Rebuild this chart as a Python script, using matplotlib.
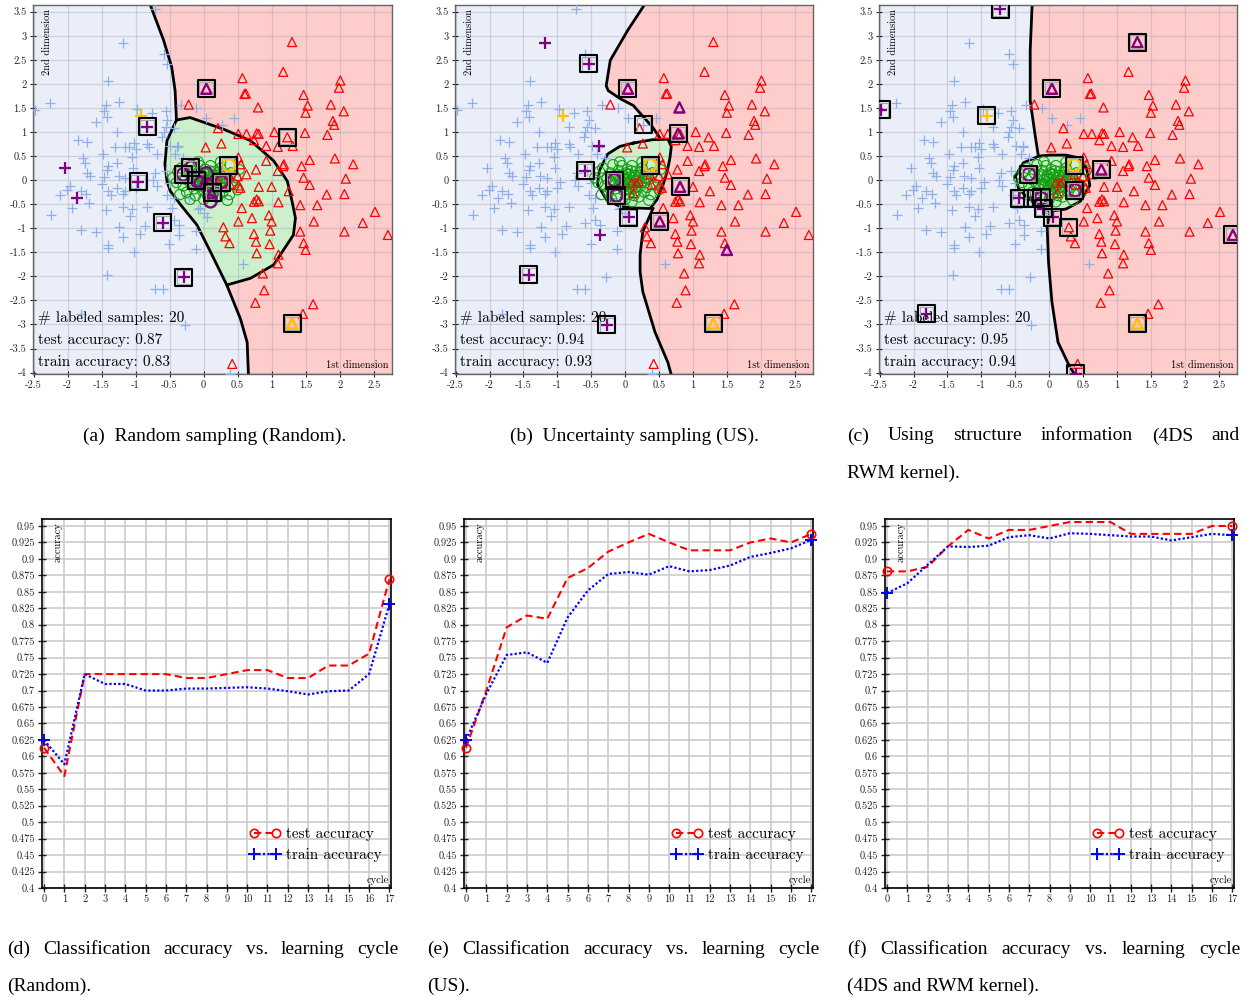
import numpy as np
import matplotlib
matplotlib.use('Agg')
import matplotlib.pyplot as plt

plt.rcParams['font.family'] = 'serif'
plt.rcParams['font.serif'] = ['cmr10']
plt.rcParams['axes.unicode_minus'] = False
plt.rcParams['mathtext.fontset'] = 'cm'

# ---------------- scatter data (same samples in all three panels) ----------------
cross_pts = [(-2.48, 1.46), (-2.26, 1.60), (-1.18, 2.86), (-0.59, 2.62), (-0.54, 2.42), (-1.41, 2.05),
             (-1.24, 1.62), (-1.43, 1.56), (-1.47, 1.44), (-1.42, 1.32), (-1.59, 1.20), (-1.27, 0.99),
             (-0.98, 1.48), (-0.76, 1.40), (-0.56, 1.44), (-0.34, 1.57), (-0.54, 1.25), (-0.56, 1.11),
             (-0.59, 0.99), (-0.61, 0.89), (-0.44, 1.09), (-1.85, 0.83), (-1.71, 0.80), (-1.77, 0.47),
             (-1.75, 0.36), (-1.72, 0.15), (-1.67, 0.08), (-1.48, 0.54), (-1.30, 0.68), (-1.15, 0.69),
             (-1.03, 0.78), (-1.00, 0.64), (-1.05, 0.48), (-1.10, 0.68), (-1.27, 0.36), (-1.40, 0.29),
             (-1.42, 0.22), (-1.47, 0.06), (-0.83, 0.76), (-0.81, 0.68), (-0.69, 0.54), (-1.04, 0.26),
             (-0.71, 0.15), (-0.56, 0.19), (-0.49, 0.71), (-0.39, 0.68), (-2.11, -0.30), (-2.01, -0.20),
             (-1.96, -0.13), (-1.81, -0.23), (-1.73, -0.29), (-1.50, -0.09), (-1.40, -0.22), (-1.25, 0.08),
             (-1.15, 0.05), (-1.15, -0.23), (-1.27, -0.16), (-1.00, -0.16), (-0.74, 0.01), (-0.69, -0.13),
             (-0.51, -0.06), (-2.25, -0.73), (-1.94, -0.58), (-1.81, -1.03), (-1.59, -1.08), (-1.69, -0.47),
             (-1.43, -0.63), (-1.37, -0.30), (-1.18, -0.29), (-1.19, -0.56), (-1.05, -0.61), (-1.09, -0.75),
             (-0.83, -0.56), (-1.24, -0.98), (-1.18, -1.19), (-0.93, -1.12), (-0.87, -0.96), (-1.41, -1.35),
             (-1.41, -1.42), (-1.03, -1.49), (-1.42, -1.97), (-0.71, -2.27), (-0.60, -2.27), (-1.81, -2.78),
             (-0.27, -3.01), (-0.51, -1.33), (-0.44, -0.82), (-0.37, -0.93), (-0.37, -1.14), (-0.47, -0.58),
             (-0.54, -0.30), (-0.06, -0.58), (0.00, -0.68), (0.05, -0.77), (-0.12, -1.05), (-0.12, -1.43),
             (0.58, -1.75), (0.39, -4.03), (-0.11, 1.50), (0.04, 1.29), (0.27, 1.15), (0.45, 1.29),
             (-0.72, 3.55), (-0.44, -0.38), (-0.21, -0.38), (-0.09, -0.59), (-0.60, -0.89), (-0.29, -2.02),
             (-0.83, 1.11), (-0.96, -0.03), (-2.04, 0.26), (-1.87, -0.37), (-0.38, 0.71), (-0.30, 0.45),
             (0.15, 0.05), (-0.05, 0.20), (0.30, -0.30), (-0.42, 0.54)]

tri_pts = [(-0.22, 1.57), (1.30, 2.87), (1.17, 2.25), (0.57, 2.12), (2.01, 2.07), (1.99, 1.92), (0.60, 1.79),
           (0.62, 1.80), (1.47, 1.77), (1.53, 1.55), (1.50, 1.40), (1.87, 1.57), (2.06, 1.43), (0.80, 1.51),
           (1.90, 1.23), (1.92, 1.15), (0.51, 0.96), (0.63, 0.96), (0.78, 0.97), (0.81, 0.96), (1.04, 1.00),
           (1.49, 0.98), (1.82, 0.94), (0.74, 0.83), (0.92, 0.71), (1.09, 0.69), (1.31, 0.71), (0.26, 0.76),
           (0.03, 0.68), (0.21, 1.08), (0.51, 0.47), (0.55, 0.33), (0.92, 0.40), (0.77, 0.22), (1.18, 0.33),
           (1.17, 0.29), (1.09, 0.19), (1.44, 0.29), (1.56, 0.42), (1.93, 0.45), (2.20, 0.33), (1.47, 0.05),
           (2.09, 0.03), (1.56, -0.10), (0.51, -0.11), (0.81, -0.14), (1.00, -0.14), (1.25, -0.23),
           (1.81, -0.30), (2.07, -0.29), (0.37, 0.12), (0.04, 1.90), (1.23, 0.89), (0.56, -0.58),
           (0.74, -0.45), (0.78, -0.40), (0.81, -0.44), (1.10, -0.46), (0.29, -0.98), (0.51, -0.86),
           (0.71, -0.79), (0.96, -0.73), (1.00, -0.86), (0.32, -1.17), (0.38, -1.31), (0.74, -1.12),
           (0.77, -1.28), (0.98, -1.05), (0.97, -1.33), (0.78, -1.52), (1.10, -1.55), (1.09, -1.73),
           (0.87, -1.94), (0.89, -2.29), (0.76, -2.55), (1.61, -2.58), (1.46, -2.78), (0.42, -3.82),
           (1.42, -0.52), (1.67, -0.52), (1.62, -0.86), (1.42, -1.07), (1.47, -1.31), (1.50, -1.45),
           (2.07, -1.07), (2.34, -0.89), (2.52, -0.66), (2.71, -1.14), (0.50, 0.08), (0.63, 0.12),
           (0.39, -0.09), (0.54, -0.16), (0.10, -0.06), (0.17, -0.06), (0.12, -0.27), (0.20, -0.02)]

circ_pts = [(-0.45, 0.05), (-0.40, -0.05), (-0.38, 0.18), (-0.33, 0.25), (-0.30, -0.12), (-0.27, 0.02),
            (-0.25, -0.25), (-0.22, 0.15), (-0.20, -0.05), (-0.18, 0.32), (-0.15, 0.08), (-0.14, -0.18),
            (-0.12, -0.32), (-0.10, 0.20), (-0.08, 0.00), (-0.06, -0.12), (-0.05, 0.30), (-0.03, 0.10),
            (-0.02, -0.22), (0.00, 0.02), (0.02, -0.08), (0.03, 0.22), (0.05, -0.30), (0.06, 0.12),
            (0.08, -0.02), (0.09, -0.15), (0.10, 0.30), (0.12, 0.05), (0.13, -0.10), (0.15, 0.18),
            (0.16, -0.22), (0.18, 0.00), (0.20, -0.35), (0.21, 0.10), (0.23, -0.12), (0.25, 0.25),
            (0.27, -0.02), (0.28, -0.25), (0.30, 0.12), (0.32, -0.15), (0.35, 0.02), (0.38, -0.30),
            (0.40, 0.15), (0.43, -0.08), (0.47, 0.05), (0.50, -0.20), (0.52, 0.22), (-0.35, -0.30),
            (0.00, -0.40), (0.10, -0.45), (-0.20, -0.40), (0.25, 0.38), (-0.08, 0.38), (0.35, -0.42),
            (-0.04, 0.05), (0.04, -0.04), (0.07, 0.06), (0.11, -0.05), (0.14, 0.09), (-0.01, -0.13),
            (0.19, 0.05), (0.06, -0.19), (-0.11, 0.11), (0.16, -0.14), (0.22, 0.16), (-0.09, -0.07),
            (0.01, 0.15), (0.24, -0.06), (0.09, 0.19), (-0.16, -0.09), (0.30, 0.04), (0.13, -0.32)]

yel_cross = (-0.92, 1.34)
yel_circ = (0.37, 0.31)
yel_tri = (1.30, -2.98)

# ---------------- per panel: labeled samples ----------------
a_pcross = [(-2.04, 0.26), (-1.87, -0.37), (-0.83, 1.11), (-0.96, -0.03), (-0.60, -0.89), (-0.29, -2.02)]
a_pcirc = [(-0.30, 0.12), (-0.18, 0.26), (-0.10, -0.01), (0.04, 0.14), (-0.04, -0.06), (0.26, -0.04),
           (0.10, -0.44), (0.05, -0.10)]
a_ptri = [(0.04, 1.90), (0.12, -0.27)]
a_box = [(-0.83, 1.11), (-0.96, -0.03), (-0.60, -0.89), (-0.29, -2.02), (0.04, 1.90), (1.23, 0.89),
         (0.37, 0.31), (1.30, -2.98), (-0.30, 0.12), (-0.20, 0.26), (-0.10, -0.01), (0.26, -0.04),
         (0.13, -0.26)]

b_pcross = [(-1.18, 2.86), (-0.38, 0.71), (-0.59, 0.19), (0.05, -0.77), (-0.37, -1.14), (-1.42, -1.97),
            (-0.54, 2.42), (-0.27, -3.01)]
b_pcirc = [(-0.16, 0.00), (-0.13, -0.32)]
b_ptri = [(0.04, 1.90), (0.80, 1.51), (0.78, 0.97), (0.81, -0.14), (0.51, -0.86), (1.50, -1.45)]
b_box = [(-0.54, 2.42), (0.04, 1.90), (0.27, 1.15), (-0.59, 0.19), (-0.16, 0.00), (-0.13, -0.32),
         (0.37, 0.31), (0.05, -0.77), (0.51, -0.86), (0.78, 0.97), (0.81, -0.14), (-1.42, -1.97),
         (-0.27, -3.01), (1.30, -2.98)]

c_pcross = [(-2.48, 1.46), (-0.72, 3.55), (-0.44, -0.38), (-0.21, -0.38), (-0.09, -0.59), (0.05, -0.77),
            (-1.81, -2.78), (0.39, -4.03)]
c_pcirc = [(-0.30, 0.12), (-0.12, -0.37), (0.38, -0.21)]
c_ptri = [(0.04, 1.90), (1.30, 2.87), (0.77, 0.22), (2.71, -1.14)]
c_box = [(-2.48, 1.46), (-0.72, 3.55), (-0.92, 1.34), (0.04, 1.90), (1.30, 2.87), (-0.30, 0.12),
         (0.37, 0.31), (0.77, 0.22), (-0.44, -0.38), (-0.24, -0.38), (-0.12, -0.37), (-0.09, -0.59),
         (0.05, -0.77), (0.38, -0.21), (0.29, -0.98), (2.71, -1.14), (-1.81, -2.78), (1.30, -2.98),
         (0.39, -4.03)]

# ---------------- decision boundaries ----------------
a_top = [(-0.80, 3.70), (-0.59, 2.91), (-0.47, 2.35), (-0.42, 1.86), (-0.40, 1.25)]
a_bot = [(0.34, -2.18), (0.54, -2.88), (0.64, -3.37), (0.66, -4.10)]
a_grn = [(-0.40, 1.25), (-0.20, 1.30), (0.29, 1.06), (0.69, 0.82), (1.03, 0.40), (1.23, -0.02),
         (1.30, -0.44), (1.35, -0.79), (1.32, -1.14), (1.03, -1.76), (0.69, -2.04), (0.34, -2.18),
         (0.10, -1.49), (-0.05, -1.07), (-0.10, -0.93), (-0.34, -0.51), (-0.49, -0.23), (-0.54, -0.02),
         (-0.57, 0.33), (-0.54, 0.82)]

b_top = [(0.31, 3.70), (0.04, 3.12), (-0.22, 2.49), (-0.28, 1.96), (-0.25, 1.86), (-0.07, 1.69),
         (0.12, 1.55), (0.41, 1.09), (0.51, 0.88)]
b_bot = [(0.41, -0.59), (0.26, -1.07), (0.22, -1.55), (0.22, -1.91), (0.26, -2.32), (0.44, -3.16),
         (0.63, -3.79), (0.69, -4.10)]
b_grn = [(0.12, 0.77), (0.40, 0.84), (0.63, 0.85), (0.68, 0.70), (0.66, 0.46), (0.62, 0.18),
         (0.56, -0.09), (0.47, -0.40), (0.37, -0.59), (0.15, -0.58), (-0.07, -0.55), (-0.27, -0.42),
         (-0.41, -0.09), (-0.38, 0.20), (-0.26, 0.54), (-0.08, 0.70)]

c_top = [(-0.25, 3.70), (-0.28, 2.70), (-0.28, 1.65), (-0.21, 0.96), (-0.16, 0.50)]
c_bot = [(0.01, -0.65), (-0.03, -0.96), (-0.01, -1.70), (0.04, -2.53), (0.13, -3.37), (0.31, -3.90),
         (0.41, -4.10)]
c_grn = [(-0.50, 0.08), (-0.38, 0.36), (-0.15, 0.50), (0.01, 0.52), (0.25, 0.52), (0.41, 0.47),
         (0.55, 0.25), (0.60, -0.11), (0.46, -0.44), (0.25, -0.60), (0.01, -0.65), (-0.31, -0.38),
         (-0.45, -0.18)]

acc_text = [("0.87", "0.83"), ("0.94", "0.93"), ("0.95", "0.94")]

# ---------------- accuracy curves ----------------
cycles = [0, 1, 2, 3, 4, 5, 6, 7, 8, 9, 10, 11, 12, 13, 14, 15, 16, 17]
d_test = [0.613, 0.570, 0.725, 0.725, 0.725, 0.725, 0.725, 0.719, 0.719, 0.725, 0.731, 0.731, 0.719,
          0.719, 0.738, 0.738, 0.756, 0.869]
d_train = [0.625, 0.588, 0.725, 0.710, 0.710, 0.700, 0.700, 0.703, 0.703, 0.704, 0.705, 0.703, 0.699,
           0.694, 0.699, 0.700, 0.725, 0.831]
e_test = [0.613, 0.700, 0.796, 0.814, 0.809, 0.871, 0.886, 0.911, 0.925, 0.938, 0.925, 0.913, 0.913,
          0.913, 0.925, 0.931, 0.925, 0.938]
e_train = [0.625, 0.695, 0.754, 0.758, 0.742, 0.811, 0.852, 0.877, 0.880, 0.876, 0.889, 0.881, 0.883,
           0.890, 0.903, 0.909, 0.916, 0.929]
f_test = [0.881, 0.881, 0.888, 0.919, 0.944, 0.931, 0.944, 0.944, 0.950, 0.956, 0.956, 0.956, 0.938,
          0.938, 0.938, 0.938, 0.950, 0.950]
f_train = [0.848, 0.863, 0.891, 0.919, 0.918, 0.920, 0.933, 0.936, 0.931, 0.939, 0.938, 0.936, 0.934,
           0.934, 0.928, 0.933, 0.938, 0.936]

captions_top = ["(a)  Random sampling (Random).", "(b)  Uncertainty sampling (US)."]

W, H = 1245, 998
fig = plt.figure(figsize=(W / 100, H / 100), dpi=100)

def px_axes(l, t, r, b):
    return fig.add_axes([l / W, 1 - b / H, (r - l) / W, (b - t) / H])

def xy(pts):
    a = np.array(pts)
    return a[:, 0], a[:, 1]

BLUE_BG = '#e9eef9'
RED_BG = '#ffcccc'
GRN_BG = '#ccf0cc'
CROSS = '#8fb0e6'
PURP = '#800080'
YEL = '#ffc000'

def scatter_panel(ax, top, bot, grn, pcross, pcirc, ptri, box, accs):
    ax.set_xlim(-2.51, 2.77)
    ax.set_ylim(-4.03, 3.64)
    ax.set_facecolor(BLUE_BG)
    red = top + bot + [(3.5, -4.5), (3.5, 4.0)]
    rx, ry = xy(red)
    ax.fill(rx, ry, color=RED_BG, lw=0, zorder=0.5)
    gx, gy = xy(grn)
    ax.fill(gx, gy, color=GRN_BG, lw=0, zorder=0.6)
    ax.set_axisbelow('line')
    tx, ty = xy(top)
    ax.plot(tx, ty, color='black', lw=2, zorder=2.5)
    bx, by = xy(bot)
    ax.plot(bx, by, color='black', lw=2, zorder=2.5)
    ax.plot(np.append(gx, gx[0]), np.append(gy, gy[0]), color='black', lw=2, zorder=2.5)

    cx, cy = xy(cross_pts)
    ax.scatter(cx, cy, marker='+', s=55, color=CROSS, lw=0.9, zorder=3)
    ox, oy = xy(circ_pts)
    ax.scatter(ox, oy, marker='o', s=55, facecolor='none', edgecolor='#11a011', lw=0.8, zorder=3)
    trx, tr_y = xy(tri_pts)
    ax.scatter(trx, tr_y, marker='^', s=42, facecolor='none', edgecolor='red', lw=0.9, zorder=3.1)

    ax.scatter(*yel_cross, marker='+', s=80, color=YEL, lw=1.6, zorder=3.5)
    ax.scatter(*yel_circ, marker='o', s=80, facecolor='none', edgecolor=YEL, lw=1.8, zorder=3.5)
    ax.scatter(*yel_tri, marker='^', s=55, facecolor='none', edgecolor=YEL, lw=1.8, zorder=3.5)

    px_, py_ = xy(pcross)
    ax.scatter(px_, py_, marker='+', s=80, color=PURP, lw=1.6, zorder=3.6)
    px_, py_ = xy(pcirc)
    ax.scatter(px_, py_, marker='o', s=80, facecolor='none', edgecolor=PURP, lw=1.6, zorder=3.6)
    px_, py_ = xy(ptri)
    ax.scatter(px_, py_, marker='^', s=55, facecolor='none', edgecolor=PURP, lw=1.6, zorder=3.6)

    qx, qy = xy(box)
    ax.scatter(qx, qy, marker='s', s=150, facecolor='none', edgecolor='black', lw=1.5, zorder=3.8)
    ax.scatter(qx, qy, marker='s', s=100, facecolor='none', edgecolor='#aaaaaa', lw=0.8, zorder=3.7)

    ax.set_xticks(np.arange(-2.5, 2.51, 0.5))
    ax.set_yticks(np.arange(-4, 3.51, 0.5))
    ax.set_xticklabels(['%g' % v for v in np.arange(-2.5, 2.51, 0.5)])
    ax.set_yticklabels(['%g' % v for v in np.arange(-4, 3.51, 0.5)])
    ax.tick_params(direction='inout', length=5, width=0.8, labelsize=7.5, pad=2, colors='#222222')
    ax.grid(True, color='#9a9aaa', alpha=0.35, lw=0.9)
    for s in ax.spines.values():
        s.set_color('#666666')
        s.set_linewidth(1.0)
    ax.text(0.04, 0.99, '2nd dimension', rotation=90, ha='center', va='top', fontsize=7.5,
            transform=ax.transAxes, zorder=5)
    ax.text(0.99, 0.01, '1st dimension', ha='right', va='bottom', fontsize=7.5,
            transform=ax.transAxes, zorder=5)
    ax.text(0.014, 0.152, '# labeled samples: 20', ha='left', va='center', fontsize=11,
            transform=ax.transAxes, zorder=5)
    ax.text(0.014, 0.092, 'test accuracy: ' + accs[0], ha='left', va='center', fontsize=11,
            transform=ax.transAxes, zorder=5)
    ax.text(0.014, 0.033, 'train accuracy: ' + accs[1], ha='left', va='center', fontsize=11,
            transform=ax.transAxes, zorder=5)


def acc_panel(ax, test, train):
    ax.plot(cycles, test, color='red', ls=(0, (3.5, 2)), lw=1.5, marker='o', mfc='none', ms=6,
            mew=1.2, markevery=[0, 17], label='test accuracy', zorder=3, clip_on=False)
    ax.plot(cycles, train, color='blue', ls=(0, (1, 1)), lw=1.6, marker='+', ms=8, mew=1.4,
            markevery=[0, 17], label='train accuracy', zorder=3, clip_on=False)
    ax.set_xlim(-0.1, 17.08)
    ax.set_ylim(0.4, 0.9606)
    ax.set_xticks(cycles)
    yt = np.arange(0.4, 0.9501, 0.025)
    ax.set_yticks(yt)
    ax.set_yticklabels(['%g' % round(v, 3) for v in yt])
    ax.tick_params(direction='inout', length=6, width=1, labelsize=7.5, pad=2, colors='#222222')
    ax.grid(True, color='#c8c8c8', lw=1.1)
    ax.set_axisbelow(True)
    for s in ax.spines.values():
        s.set_linewidth(1.2)
    ax.text(0.045, 0.99, 'accuracy', rotation=90, ha='center', va='top', fontsize=7.5,
            transform=ax.transAxes)
    ax.text(0.995, 0.008, 'cycle', ha='right', va='bottom', fontsize=7.5, transform=ax.transAxes)
    ax.legend(loc='lower right', bbox_to_anchor=(1.0, 0.045), frameon=False, numpoints=2,
              fontsize=11, handlelength=2.0, handletextpad=0.4, labelspacing=0.45,
              borderaxespad=0.2)


axa = px_axes(33, 5, 392, 374)
axb = px_axes(455, 5, 813, 374)
axc = px_axes(879, 5, 1237, 374)
scatter_panel(axa, a_top, a_bot, a_grn, a_pcross, a_pcirc, a_ptri, a_box, acc_text[0])
scatter_panel(axb, b_top, b_bot, b_grn, b_pcross, b_pcirc, b_ptri, b_box, acc_text[1])
scatter_panel(axc, c_top, c_bot, c_grn, c_pcross, c_pcirc, c_ptri, c_box, acc_text[2])

axd = px_axes(42, 519, 391, 888)
axe = px_axes(464, 519, 813, 888)
axf = px_axes(885, 519, 1234, 888)
acc_panel(axd, d_test, d_train)
acc_panel(axe, e_test, e_train)
acc_panel(axf, f_test, f_train)

# ---------------- captions ----------------
CAP = dict(fontsize=14, family='Liberation Serif', va='center')
fig.text(215 / W, 1 - 436 / H, captions_top[0], ha='center', **CAP)
fig.text(634 / W, 1 - 436 / H, captions_top[1], ha='center', **CAP)

renderer = fig.canvas.get_renderer()

def justify(words, x0, x1, y):
    ts = [fig.text(0, 1 - y / H, w, ha='left', **CAP) for w in words]
    ws = [t.get_window_extent(renderer).width for t in ts]
    gap = ((x1 - x0) - sum(ws)) / (len(ws) - 1)
    pos = x0
    for t, w in zip(ts, ws):
        t.set_x(pos / W)
        pos += w + gap

justify(["(c)", "Using", "structure", "information", "(4DS", "and"], 847, 1240, 436)
fig.text(847 / W, 1 - 473 / H, "RWM kernel).", ha='left', **CAP)
line1 = ["Classification", "accuracy", "vs.", "learning", "cycle"]
justify(["(d)"] + line1, 7, 399, 949)
fig.text(7 / W, 1 - 986 / H, "(Random).", ha='left', **CAP)
justify(["(e)"] + line1, 427, 820, 949)
fig.text(427 / W, 1 - 986 / H, "(US).", ha='left', **CAP)
justify(["(f)"] + line1, 847, 1240, 949)
fig.text(847 / W, 1 - 986 / H, "(4DS and RWM kernel).", ha='left', **CAP)

fig.savefig('out.png', dpi=100)
